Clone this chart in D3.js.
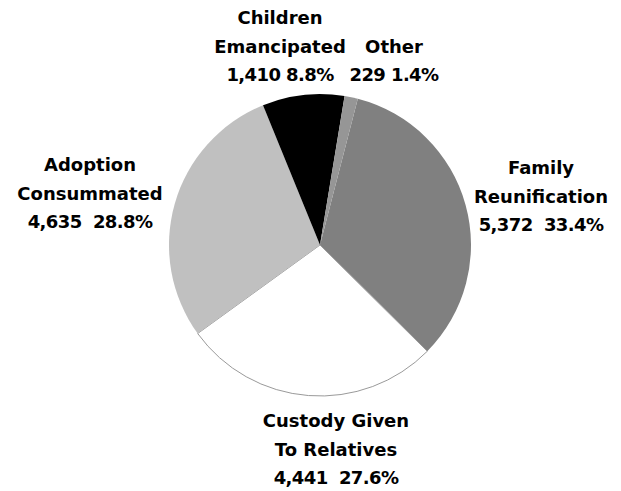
<!DOCTYPE html>
<html>
<head>
<meta charset="utf-8">
<script src="https://cdn.jsdelivr.net/npm/d3@7"></script>
<style>
  body { margin: 0; background: #fff; }
  text { font-family: "Century Gothic", "DejaVu Sans", sans-serif; font-weight: bold; fill: #000; }
</style>
</head>
<body>
<div id="chart"></div>
<script>
// Data, in drawing order (clockwise)
const categories = [
    ["Family", "Reunification"],
    ["Custody Given", "To Relatives"],
    ["Adoption", "Consummated"],
    ["Children", "Emancipated"],
    ["Other"]
];
const counts = [5372, 4441, 4635, 1410, 229];
const percents = ["33.4%", "27.6%", "28.8%", "8.8%", "1.4%"];
const valueLabels = ["5,372  33.4%", "4,441  27.6%", "4,635  28.8%", "1,410 8.8%", "229 1.4%"];

// Styling
const colors = ["#808080", "#ffffff", "#c0c0c0", "#000000", "#969696"];
// label centre x and last-line baseline
const labelPos = [[541, 231], [336, 484], [90, 228], [280, 81], [394, 81]];

const width = 621, height = 491;
const cx = 320, cy = 245, radius = 151;

const svg = d3.select("#chart")
    .append("svg")
    .attr("width", width)
    .attr("height", height);

const pie = d3.pie()
    .sort(null)
    .startAngle(14.5 * Math.PI / 180)
    .endAngle(14.5 * Math.PI / 180 + 2 * Math.PI);

const arc = d3.arc()
    .innerRadius(0)
    .outerRadius(radius);

const g = svg.append("g").attr("transform", `translate(${cx},${cy})`);

g.selectAll("path")
    .data(pie(counts))
    .enter()
    .append("path")
    .attr("d", arc)
    .attr("fill", (d, i) => colors[i])
    .attr("stroke", (d, i) => colors[i] === "#ffffff" ? "#9a9a9a" : "none")
    .attr("stroke-width", 1);

// Labels
const lineH = 28.3;
const labels = svg.selectAll("text.lbl")
    .data(categories)
    .enter()
    .append("text")
    .attr("class", "lbl")
    .attr("text-anchor", "middle")
    .attr("font-size", "18px")
    .attr("x", (d, i) => labelPos[i][0])
    .attr("y", (d, i) => labelPos[i][1] - d.length * lineH);

labels.each(function (d, i) {
    const t = d3.select(this);
    const lines = d.concat([valueLabels[i]]);
    lines.forEach((s, j) => {
        t.append("tspan")
            .attr("x", labelPos[i][0])
            .attr("dy", j === 0 ? 0 : lineH)
            .attr("letter-spacing", j === d.length ? "-0.6px" : null)
            .style("white-space", "pre")
            .text(s);
    });
});
</script>
</body>
</html>
